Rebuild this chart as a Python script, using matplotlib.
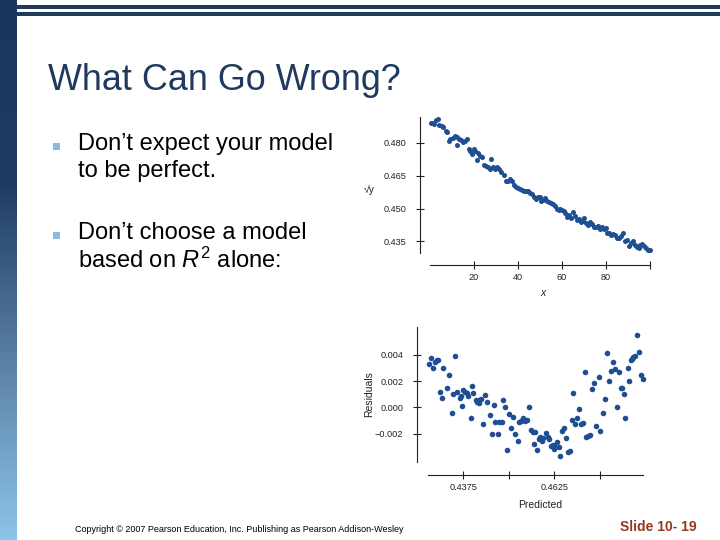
import matplotlib.pyplot as plt
import numpy as np
from matplotlib.colors import LinearSegmentedColormap

# top panel: sqrt(y) against x
x_vals = [0.5, 1.4, 2.0, 2.9, 3.8, 4.4, 5.5, 6.2, 7.4, 8.0, 8.6, 9.2, 10.5, 11.5, 12.3,
          12.6, 13.2, 14.1, 15.0, 16.2, 17.1, 17.7, 18.3, 19.2, 20.2, 20.8, 21.7, 22.0,
          22.9, 23.8, 24.7, 25.6, 26.5, 27.4, 28.0, 28.9, 29.8, 30.8, 31.7, 32.6, 33.8,
          34.7, 35.6, 36.5, 37.4, 38.3, 39.2, 40.2, 41.1, 42.0, 42.9, 43.8, 44.7, 45.6,
          46.5, 47.4, 48.3, 49.2, 50.2, 50.8, 51.7, 52.6, 53.2, 54.1, 55.0, 55.9, 56.8,
          57.7, 58.6, 59.2, 60.2, 61.1, 61.7, 62.6, 63.5, 64.4, 65.3, 66.2, 67.1, 67.7,
          68.6, 69.5, 70.2, 71.1, 72.0, 72.9, 73.8, 74.7, 75.6, 76.5, 77.4, 78.3, 79.2,
          80.2, 80.8, 81.7, 82.6, 83.5, 84.4, 85.3, 86.2, 87.1, 88.0, 88.9, 89.8, 90.8,
          91.4, 92.3, 93.2, 94.1, 95.0, 95.6, 96.5, 97.4, 98.3, 99.2, 100.2]
sqrt_y = [0.4890, 0.4893, 0.4887, 0.4905, 0.4908, 0.4884, 0.4878, 0.4875, 0.4856, 0.4850,
          0.4811, 0.4817, 0.4823, 0.4832, 0.4829, 0.4792, 0.4820, 0.4814, 0.4805, 0.4811,
          0.4817, 0.4771, 0.4762, 0.4750, 0.4774, 0.4765, 0.4722, 0.4756, 0.4741, 0.4734,
          0.4701, 0.4695, 0.4689, 0.4683, 0.4728, 0.4689, 0.4680, 0.4692, 0.4683, 0.4667,
          0.4655, 0.4628, 0.4628, 0.4637, 0.4628, 0.4609, 0.4600, 0.4594, 0.4588, 0.4585,
          0.4582, 0.4579, 0.4579, 0.4573, 0.4567, 0.4555, 0.4545, 0.4552, 0.4555, 0.4536,
          0.4539, 0.4549, 0.4536, 0.4530, 0.4527, 0.4521, 0.4512, 0.4500, 0.4491, 0.4500,
          0.4494, 0.4488, 0.4481, 0.4460, 0.4469, 0.4457, 0.4485, 0.4466, 0.4448, 0.4451,
          0.4439, 0.4442, 0.4457, 0.4433, 0.4424, 0.4436, 0.4427, 0.4417, 0.4417, 0.4420,
          0.4408, 0.4414, 0.4408, 0.4411, 0.4387, 0.4390, 0.4378, 0.4384, 0.4381, 0.4366,
          0.4366, 0.4375, 0.4390, 0.4353, 0.4357, 0.4329, 0.4341, 0.4353, 0.4335, 0.4326,
          0.4320, 0.4332, 0.4338, 0.4329, 0.4317, 0.4311, 0.4308]

# bottom panel: residuals against predicted
predicted = [0.42816, 0.42852, 0.42926, 0.42981, 0.43017, 0.43063, 0.43109, 0.43155, 0.43200,
             0.43292, 0.43347, 0.43429, 0.43457, 0.43521, 0.43585, 0.43658, 0.43677, 0.43704,
             0.43750, 0.43796, 0.43842, 0.43887, 0.43952, 0.43988, 0.44025, 0.44098, 0.44135,
             0.44171, 0.44190, 0.44226, 0.44300, 0.44336, 0.44410, 0.44483, 0.44538, 0.44593,
             0.44629, 0.44712, 0.44739, 0.44813, 0.44831, 0.44886, 0.44959, 0.45014, 0.45069,
             0.45124, 0.45161, 0.45252, 0.45289, 0.45344, 0.45399, 0.45435, 0.45490, 0.45545,
             0.45600, 0.45655, 0.45692, 0.45729, 0.45765, 0.45820, 0.45857, 0.45912, 0.45948,
             0.46022, 0.46077, 0.46113, 0.46168, 0.46205, 0.46242, 0.46278, 0.46315, 0.46370,
             0.46406, 0.46461, 0.46516, 0.46571, 0.46626, 0.46681, 0.46736, 0.46773, 0.46809,
             0.46864, 0.46938, 0.46993, 0.47048, 0.47084, 0.47121, 0.47176, 0.47231, 0.47286,
             0.47341, 0.47396, 0.47469, 0.47506, 0.47579, 0.47634, 0.47689, 0.47744, 0.47799,
             0.47872, 0.47927, 0.47982, 0.48037, 0.48074, 0.48110, 0.48165, 0.48202, 0.48275,
             0.48312, 0.48348, 0.48385, 0.48422, 0.48477, 0.48513, 0.48568, 0.48623, 0.48697]
residuals = [3.32, 3.72, 2.98, 3.47, 3.57, 3.62, 1.19, 0.74, 2.98, 1.44, 2.43, -0.45, 1.04,
             3.87, 1.19, 0.74, 0.84, 0.10, 1.34, 1.19, 1.09, 0.84, -0.84, 1.59, 1.09, 0.55,
             0.40, 0.35, 0.55, 0.64, -1.29, 0.94, 0.40, -0.55, -2.03, 0.15, -1.14, -2.03,
             -1.14, -1.14, 0.55, 0.00, -3.27, -0.50, -1.59, -0.74, -2.03, -2.53, -1.09, -1.04,
             -0.84, -1.04, -0.99, 0.00, -1.69, -1.84, -2.78, -1.84, -3.22, -2.43, -2.23, -2.58,
             -2.33, -1.93, -2.28, -2.38, -2.93, -2.83, -3.17, -2.98, -2.63, -3.03, -3.72, -1.79,
             -1.59, -2.33, -3.42, -3.32, -0.94, 1.09, -1.29, -0.84, -0.15, -1.29, -1.19, 2.68,
             -2.23, -2.18, -2.08, 1.39, 1.84, -1.39, 2.28, -1.79, -0.45, 0.60, 4.17, 1.98,
             2.78, 3.42, 2.88, 0.05, 2.68, 1.44, 1.49, 0.99, -0.84, 2.98, 1.98, 3.57, 3.67,
             3.82, 3.87, 5.51, 4.22, 2.43, 2.13]
residuals = [r / 1000 for r in residuals]

top_xticks = [20, 40, 60, 80, 100]
top_xlabels = ['20', '40', '60', '80', '']
top_yticks = [0.435, 0.450, 0.465, 0.480]
bot_xticks = [0.4375, 0.45, 0.4625, 0.475]
bot_xlabels = ['0.4375', '', '0.4625', '']
bot_yticks = [-0.002, 0.0, 0.002, 0.004]
bot_ylabels = ['\u22120.002', '0.000', '0.002', '0.004']

plt.rcParams['font.family'] = ['Liberation Sans', 'DejaVu Sans']
plt.rcParams['mathtext.fontset'] = 'custom'
plt.rcParams['mathtext.rm'] = 'Liberation Sans'
plt.rcParams['mathtext.it'] = 'Liberation Sans:italic'

NARROW = ['Liberation Sans Narrow', 'Liberation Sans', 'DejaVu Sans']
DOT = '#1e4f93'
NAVY = '#1f3a5c'

fig = plt.figure(figsize=(7.2, 5.4), dpi=100)

# slide background in pixel coordinates
bg = fig.add_axes([0, 0, 1, 1])
bg.set_xlim(0, 720)
bg.set_ylim(540, 0)
bg.axis('off')
grad = np.linspace(0, 1, 256).reshape(-1, 1)
cmap = LinearSegmentedColormap.from_list('side', ['#1b365c', '#1d3b62', '#5a80a3', '#8cc4ea'])
bg.imshow(grad, extent=(0, 17, 540, 0), aspect='auto', cmap=cmap)
bg.add_patch(plt.Rectangle((17, 5), 703, 3.8, color=NAVY, lw=0))
bg.add_patch(plt.Rectangle((17, 12.2), 703, 3.8, color=NAVY, lw=0))

bg.text(48, 81, 'What Can Go Wrong?', fontsize=25.8, color=NAVY, va='center', ha='left')
for yb in (146, 235):
    bg.add_patch(plt.Rectangle((53, yb - 3.5), 7, 7, color='#8db9dc', lw=0))
bg.text(78, 144, 'Don\u2019t expect your model', fontsize=17, va='center')
bg.text(78, 171, 'to be perfect.', fontsize=17, va='center')
bg.text(78, 233, 'Don\u2019t choose a model', fontsize=17, va='center')
bg.text(78, 260, 'based on $R^{2}$ alone:', fontsize=17, va='center')
bg.text(75, 529, 'Copyright \u00a9 2007 Pearson Education, Inc. Publishing as Pearson Addison-Wesley',
        fontsize=6.45, va='center', family=NARROW)
bg.text(697, 527, 'Slide 10- 19', fontsize=10, fontweight='bold', color='#943a1c',
        va='center', ha='right')


def style_axes(ax, xbounds, ybounds, left_out, bottom_out):
    ax.patch.set_alpha(0)
    for s in ('top', 'right'):
        ax.spines[s].set_visible(False)
    ax.spines['left'].set_position(('outward', left_out))
    ax.spines['bottom'].set_position(('outward', bottom_out))
    ax.spines['left'].set_bounds(*ybounds)
    ax.spines['bottom'].set_bounds(*xbounds)
    for s in ('left', 'bottom'):
        ax.spines[s].set_linewidth(0.8)
        ax.spines[s].set_color('#222222')
    ax.tick_params(direction='inout', length=6, width=0.8, color='#222222',
                   labelsize=6.6, labelcolor='#222222')
    ax.tick_params(axis='y', pad=7)
    ax.tick_params(axis='x', pad=3)
    for lab in ax.get_xticklabels() + ax.get_yticklabels():
        lab.set_family(NARROW)


# top scatter
ax1 = fig.add_axes([0.5922, 0.5289, 0.3163, 0.2569])
ax1.scatter(x_vals, sqrt_y, s=13, color=DOT, lw=0)
ax1.set_xlim(-1.5, 102)
ax1.set_ylim(0.4290, 0.4925)
ax1.set_xticks(top_xticks)
ax1.set_xticklabels(top_xlabels)
ax1.set_yticks(top_yticks)
ax1.set_yticklabels([f'{v:.3f}' for v in top_yticks])
style_axes(ax1, (0, 100), (0.4295, 0.492), 4.6, 7.6)
bg.text(369, 190, '\u221ay', fontsize=7.5, va='center', ha='center', color='#222222', family=NARROW)
bg.text(543, 293, 'x', fontsize=7.5, va='center', ha='center', style='italic', color='#222222')

# bottom scatter
ax2 = fig.add_axes([0.5904, 0.1409, 0.3083, 0.2557])
ax2.scatter(predicted, residuals, s=16, color=DOT, lw=0)
ax2.set_xlim(0.4270, 0.4880)
ax2.set_ylim(-0.0043, 0.0062)
ax2.set_xticks(bot_xticks)
ax2.set_xticklabels(bot_xlabels)
ax2.set_yticks(bot_yticks)
ax2.set_yticklabels(bot_ylabels)
style_axes(ax2, (0.4279, 0.4870), (-0.00417, 0.00613), 5.6, 8.0)
bg.text(369, 394, 'Residuals', fontsize=7.5, va='center', ha='center', rotation=90,
        color='#222222', family=NARROW)
bg.text(540, 505, 'Predicted', fontsize=7.5, va='center', ha='center', color='#222222', family=NARROW)

fig.savefig('out.png', dpi=100)
